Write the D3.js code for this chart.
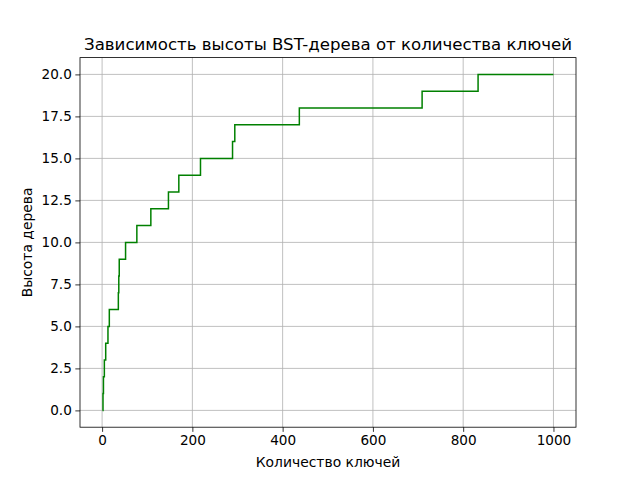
<!DOCTYPE html>
<html><head><meta charset="utf-8">
<script src="https://cdn.jsdelivr.net/npm/d3@7"></script>
<style>body{margin:0;background:#fff}svg{display:block}text{font-family:"DejaVu Sans",sans-serif;fill:#000}</style>
</head><body><svg id="c" width="640" height="480"></svg>
<script>
// Key counts at which the tree height changes, and the height reached there
const keyCounts = [1,2,3,5,8,13,16,36,37,38,52,77,108,147,170,218,289,294,437,709,833,1000];
const heights   = [0,1,2,3,4,5,6,7,8,9,10,11,12,13,14,15,16,17,18,19,20,20];
const xTicks = [0,200,400,600,800,1000];
const yTicks = [0,2.5,5,7.5,10,12.5,15,17.5,20];
const title = "Зависимость высоты BST-дерева от количества ключей";
const xLabel = "Количество ключей";
const yLabel = "Высота дерева";

const L=80,R=576,T=57.6,B=427.2;
const svg=d3.select("#c");
const x=d3.scaleLinear().domain([1-49.95,1000+49.95]).range([L,R]);
const y=d3.scaleLinear().domain([-1,21]).range([B,T]);
const data=keyCounts.map((k,i)=>({k,h:heights[i]}));

// grid
const g=svg.append("g");
g.selectAll(".gx").data(xTicks).join("line").attr("x1",d=>x(d)).attr("x2",d=>x(d)).attr("y1",T).attr("y2",B).attr("stroke","#b0b0b0").attr("stroke-width",0.8);
g.selectAll(".gy").data(yTicks).join("line").attr("y1",d=>y(d)).attr("y2",d=>y(d)).attr("x1",L).attr("x2",R).attr("stroke","#b0b0b0").attr("stroke-width",0.8);

svg.append("path").datum(data).attr("fill","none").attr("stroke","#008000").attr("stroke-width",1.5)
  .attr("d",d3.line().x(d=>x(d.k)).y(d=>y(d.h)).curve(d3.curveStepAfter));

const xa=svg.append("g").attr("transform",`translate(0,${B})`).call(d3.axisBottom(x).tickValues(xTicks).tickSize(4.67).tickPadding(3.5).tickFormat(d3.format("d")));
const ya=svg.append("g").attr("transform",`translate(${L},0)`).call(d3.axisLeft(y).tickValues(yTicks).tickSize(4.67).tickPadding(3.5).tickFormat(d3.format(".1f")));
[xa,ya].forEach(a=>{a.select(".domain").remove();a.selectAll("line").attr("stroke","#000").attr("stroke-width",0.8);a.selectAll("text").attr("font-size","13.6px").attr("font-family","DejaVu Sans");});

svg.append("rect").attr("x",L).attr("y",T).attr("width",R-L).attr("height",B-T).attr("fill","none").attr("stroke","#000").attr("stroke-width",0.8);

svg.append("text").attr("x",(L+R)/2).attr("y",T-8).attr("text-anchor","middle").attr("font-size","16.6px").text(title);
svg.append("text").attr("x",(L+R)/2).attr("y",467).attr("text-anchor","middle").attr("font-size","13.9px").text(xLabel);
svg.append("text").attr("transform",`translate(32,${(T+B)/2}) rotate(-90)`).attr("text-anchor","middle").attr("font-size","13.9px").text(yLabel);
</script></body></html>
